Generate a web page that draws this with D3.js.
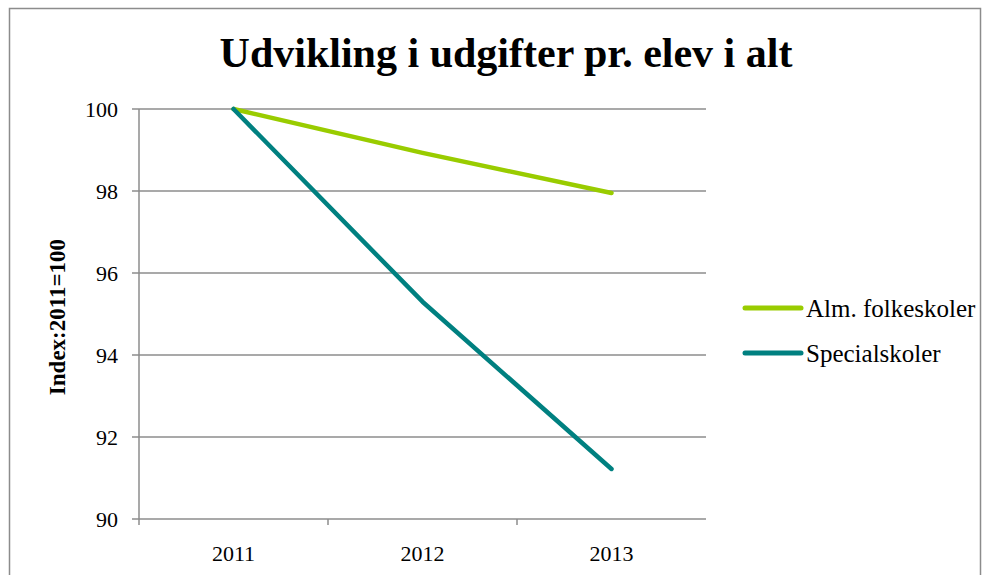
<!DOCTYPE html>
<html>
<head>
<meta charset="utf-8">
<script src="https://cdn.jsdelivr.net/npm/d3@7/dist/d3.min.js"></script>
<style>
  body { margin: 0; background: #fff; }
  svg text { font-family: "Liberation Serif", "DejaVu Serif", serif; fill: #000; }
</style>
</head>
<body>
<svg id="chart" width="991" height="575"></svg>
<script>
// Chart data
const years = ['2011', '2012', '2013'];
const almFolkeskoler = [100, 98.93, 97.95];
const specialskoler = [100, 95.3, 91.22];
const seriesNames = ['Alm. folkeskoler', 'Specialskoler'];
const seriesColors = ['#99cc00', '#008080'];
const yTicks = [90, 92, 94, 96, 98, 100];

const FONT = '"Liberation Serif", "DejaVu Serif", serif';
const svg = d3.select('#chart');

// outer frame
svg.append('rect')
  .attr('x', 9.5).attr('y', 8.5)
  .attr('width', 971).attr('height', 600)
  .attr('fill', 'none').attr('stroke', '#8c8c8c').attr('stroke-width', 1.5);

const margin = { top: 109, left: 139, right: 706, bottom: 519 };

const x = d3.scaleBand().domain(years).range([margin.left, margin.right]);
const y = d3.scaleLinear().domain([90, 100]).range([margin.bottom, margin.top]);

// gridlines
svg.append('g')
  .selectAll('line')
  .data(yTicks)
  .join('line')
  .attr('x1', margin.left - 7).attr('x2', margin.right)
  .attr('y1', d => y(d)).attr('y2', d => y(d))
  .attr('stroke', '#8c8c8c').attr('stroke-width', 1.5);

// y axis line
svg.append('line')
  .attr('x1', margin.left).attr('x2', margin.left)
  .attr('y1', margin.top).attr('y2', margin.bottom + 6)
  .attr('stroke', '#8c8c8c').attr('stroke-width', 1.5);

// x ticks between categories
svg.append('g')
  .selectAll('line')
  .data(years.slice(1))
  .join('line')
  .attr('x1', d => x(d)).attr('x2', d => x(d))
  .attr('y1', margin.bottom).attr('y2', margin.bottom + 6)
  .attr('stroke', '#8c8c8c').attr('stroke-width', 1.5);

// y tick labels
svg.append('g')
  .selectAll('text')
  .data(yTicks)
  .join('text')
  .attr('x', margin.left - 21)
  .attr('y', d => y(d))
  .attr('dy', '0.35em')
  .attr('text-anchor', 'end')
  .attr('font-family', FONT)
  .attr('font-size', 22)
  .text(d => d);

// x tick labels
svg.append('g')
  .selectAll('text')
  .data(years)
  .join('text')
  .attr('x', d => x(d) + x.bandwidth() / 2)
  .attr('y', margin.bottom + 42)
  .attr('text-anchor', 'middle')
  .attr('font-family', FONT)
  .attr('font-size', 22)
  .text(d => d);

// y axis title
svg.append('text')
  .attr('transform', 'translate(65,317) rotate(-90)')
  .attr('text-anchor', 'middle')
  .attr('font-family', FONT)
  .attr('font-size', 23)
  .attr('font-weight', 'bold')
  .text('Index:2011=100');

// chart title
svg.append('text')
  .attr('x', 506).attr('y', 67)
  .attr('text-anchor', 'middle')
  .attr('font-family', FONT)
  .attr('font-size', 42)
  .attr('font-weight', 'bold')
  .text('Udvikling i udgifter pr. elev i alt');

// lines
const line = d3.line()
  .x((d, i) => x(years[i]) + x.bandwidth() / 2)
  .y(d => y(d));

[almFolkeskoler, specialskoler].forEach((vals, i) => {
  svg.append('path')
    .datum(vals)
    .attr('d', line)
    .attr('fill', 'none')
    .attr('stroke', seriesColors[i])
    .attr('stroke-width', 4.5)
    .attr('stroke-linecap', 'round')
    .attr('stroke-linejoin', 'round');
});

// legend
const legend = svg.append('g')
  .selectAll('g')
  .data(seriesNames)
  .join('g')
  .attr('transform', (d, i) => `translate(745,${308 + i * 45})`);

legend.append('line')
  .attr('x1', 0).attr('x2', 56)
  .attr('stroke', (d, i) => seriesColors[i])
  .attr('stroke-width', 5)
  .attr('stroke-linecap', 'round');

legend.append('text')
  .attr('x', 61)
  .attr('dy', '0.35em')
  .attr('font-family', FONT)
  .attr('font-size', 25)
  .text(d => d);
</script>
</body>
</html>
